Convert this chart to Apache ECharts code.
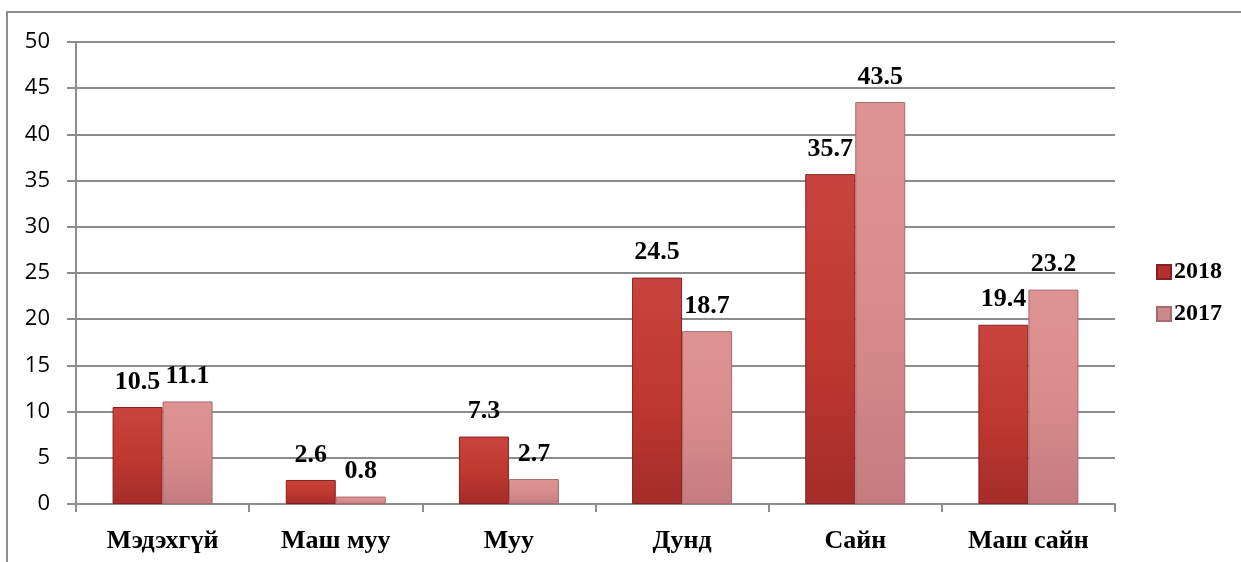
<!DOCTYPE html>
<html>
<head>
<meta charset="utf-8">
<script src="https://cdn.jsdelivr.net/npm/echarts@6/dist/echarts.min.js"></script>
<style>
html,body{margin:0;padding:0;background:#fff;}
#chart{width:1241px;height:562px;}
</style>
</head>
<body>
<div id="chart"></div>
<script>
var categories = ['Мэдэхгүй', 'Маш муу', 'Муу', 'Дунд', 'Сайн', 'Маш сайн'];
var values2018 = [10.5, 2.6, 7.3, 24.5, 35.7, 19.4];
var values2017 = [11.1, 0.8, 2.7, 18.7, 43.5, 23.2];
var yTicks = [0, 5, 10, 15, 20, 25, 30, 35, 40, 45, 50];

var myChart = echarts.init(document.getElementById('chart'));

// bar fill: light at top, darker toward the base
function shade(top, mid, bottom) {
	return new echarts.graphic.LinearGradient(0, 0, 0, 1, [
		{offset: 0, color: top},
		{offset: 0.5, color: mid},
		{offset: 1, color: bottom}
	]);
}

var labelStyle = {
	show: true,
	position: 'top',
	distance: 12,
	fontFamily: 'Liberation Serif',
	fontWeight: 'bold',
	fontSize: 26,
	color: '#000'
};

var option = {
	animation: false,
	graphic: [{
		type: 'rect',
		shape: {x: 7, y: 12, width: 1300, height: 600},
		style: {fill: 'none', stroke: '#8c8c8c', lineWidth: 2},
		silent: true
	}],
	grid: {
		left: 76,
		right: 126,
		top: 42,
		bottom: 58
	},
	legend: {
		orient: 'vertical',
		left: 1151,
		top: 255,
		itemWidth: 14,
		itemHeight: 14,
		itemGap: 18,
		textStyle: {
			fontFamily: 'Liberation Serif',
			fontWeight: 'bold',
			fontSize: 24,
			color: '#000',
			padding: [0, 0, 0, -2]
		},
		data: [
			{name: '2018', icon: 'rect', itemStyle: {color: '#b52f2f'}},
			{name: '2017', icon: 'rect', itemStyle: {color: '#c98a8e'}}
		]
	},
	xAxis: {
		type: 'category',
		data: categories,
		axisLine: {lineStyle: {color: '#8c8c8c', width: 2}},
		axisTick: {show: true, length: 8, lineStyle: {color: '#8c8c8c', width: 2}},
		axisLabel: {
			fontFamily: 'Liberation Serif',
			fontWeight: 'bold',
			fontSize: 26,
			color: '#000',
			margin: 24
		}
	},
	yAxis: {
		type: 'value',
		min: yTicks[0],
		max: yTicks[yTicks.length - 1],
		interval: 5,
		axisLine: {show: true, lineStyle: {color: '#8c8c8c', width: 2}},
		axisTick: {show: true, length: 9, lineStyle: {color: '#8c8c8c', width: 2}},
		splitLine: {lineStyle: {color: '#8c8c8c', width: 2}},
		axisLabel: {
			fontFamily: 'Open Sans',
			fontSize: 22,
			color: '#000',
			margin: 26
		}
	},
	series: [
		{
			name: '2018',
			type: 'bar',
			data: values2018,
			barWidth: 50,
			barGap: '0%',
			itemStyle: {
				color: shade('#c9443e', '#c0392f', '#a52c2a'),
				borderColor: '#86201e',
				borderWidth: 1
			},
			label: labelStyle
		},
		{
			name: '2017',
			type: 'bar',
			data: values2017,
			barWidth: 50,
			barGap: '0%',
			itemStyle: {
				color: shade('#de9393', '#d98c8c', '#c47c80'),
				borderColor: '#a86a6e',
				borderWidth: 1
			},
			label: labelStyle
		}
	]
};
myChart.setOption(option);
</script>
</body>
</html>
